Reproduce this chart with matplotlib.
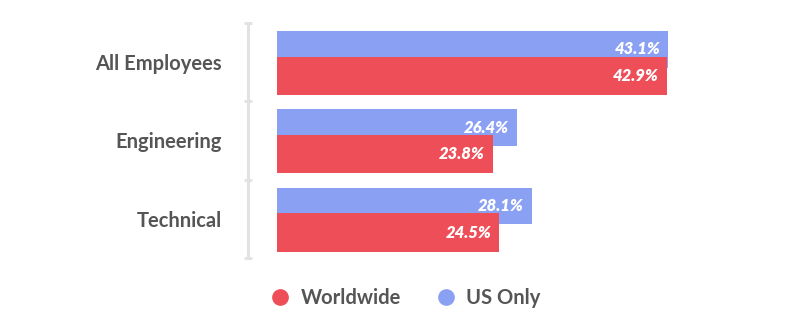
import numpy as np
import matplotlib.pyplot as plt
from matplotlib.lines import Line2D

categories = ['All Employees', 'Engineering', 'Technical']
us_only = [43.1, 26.4, 28.1]
worldwide = [42.9, 23.8, 24.5]

blue = '#8AA0F2'
red = '#EE4E58'
grey = '#555555'

plt.rcParams['font.family'] = ['Lato', 'DejaVu Sans']

fig = plt.figure(figsize=(8, 3.17), dpi=100)
# axes placed in pixel terms: left spine at x=248, top 23, bottom 258
ax = fig.add_axes([248/800, 1-258/317, 532/800, 235/317])

y = np.arange(len(categories))
ax.barh(y - 0.165, us_only, height=0.47, color=blue, zorder=2)
ax.barh(y + 0.175, worldwide, height=0.49, color=red, zorder=3)

for i in range(len(categories)):
    ax.text(us_only[i] - 0.9, y[i] - 0.165, f'{us_only[i]}%', color='white',
            fontsize=12, fontweight='heavy', fontstyle='italic',
            ha='right', va='center', zorder=4)
    ax.text(worldwide[i] - 0.9, y[i] + 0.175, f'{worldwide[i]}%', color='white',
            fontsize=12, fontweight='heavy', fontstyle='italic',
            ha='right', va='center', zorder=4)

ax.set_xlim(-3.2, 55.4)
ax.set_ylim(2.5, -0.5)
ax.set_yticks(y)
ax.set_yticklabels(categories, fontsize=14.5, fontweight='bold', color=grey)
ax.set_yticks([-0.5, 0.5, 1.5, 2.5], minor=True)
ax.tick_params(axis='y', which='major', length=0, pad=19)
ax.tick_params(axis='y', which='minor', direction='inout', length=6,
               width=2, color='#e2e2e2')
ax.set_xticks([])
for s in ['top', 'right', 'bottom']:
    ax.spines[s].set_visible(False)
ax.spines['left'].set_color('#e2e2e2')
ax.spines['left'].set_linewidth(2.2)

handles = [Line2D([], [], marker='o', ls='', color=red, markersize=11),
           Line2D([], [], marker='o', ls='', color=blue, markersize=11)]
leg = fig.legend(handles, ['Worldwide', 'US Only'], loc='center',
                 bbox_to_anchor=(0.507, 1-298/317), ncol=2, frameon=False,
                 handlelength=1, handletextpad=0.5, columnspacing=1.75,
                 prop={'size': 14.5, 'weight': 'bold'})
for t in leg.get_texts():
    t.set_color(grey)

fig.savefig('out.png', dpi=100)
